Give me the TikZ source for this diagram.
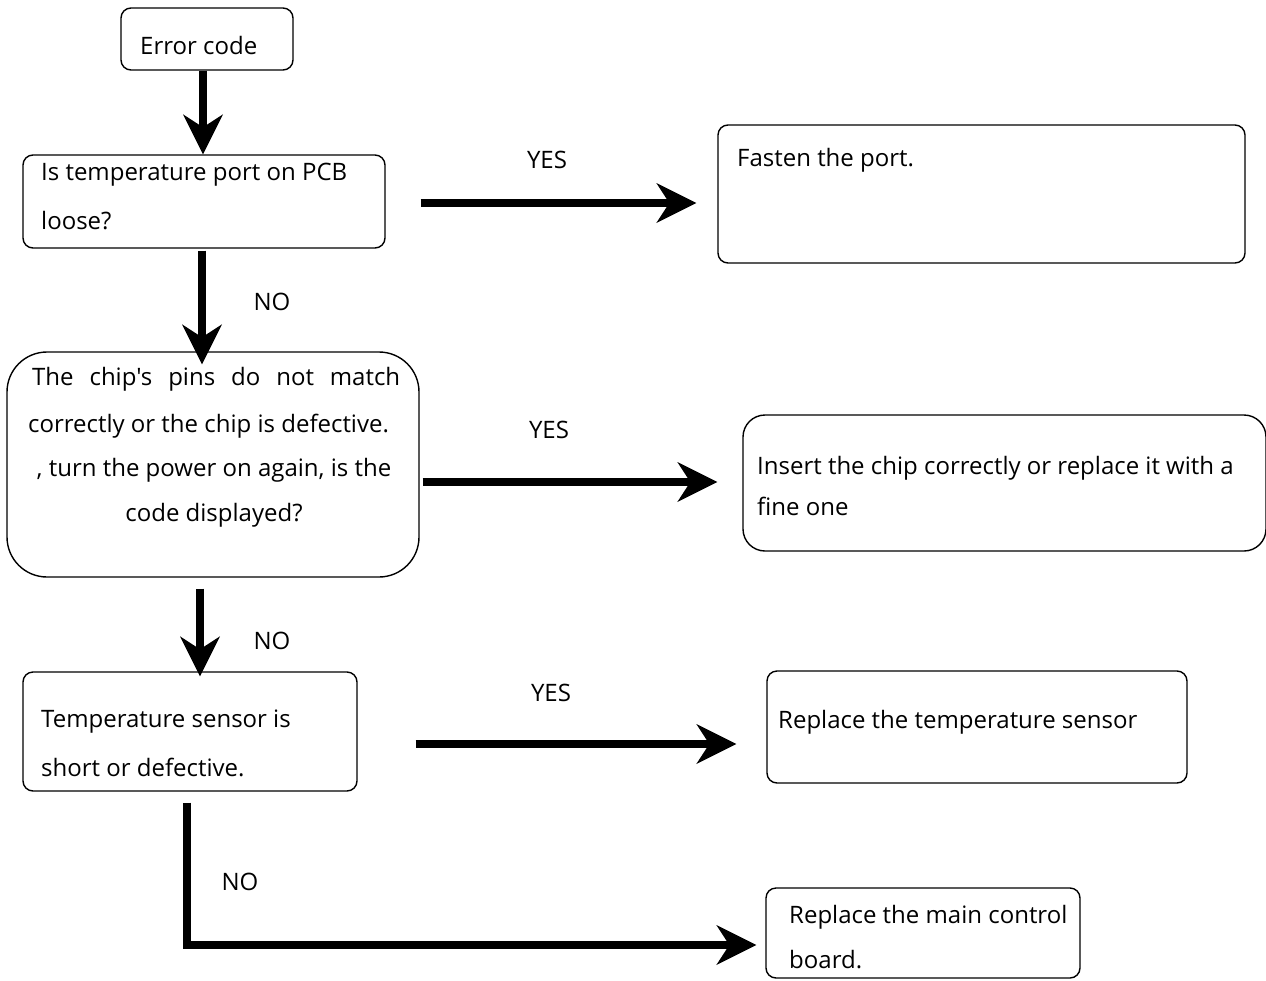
\documentclass[tikz,border=0pt]{standalone}
\usepackage{fontspec}
\setmainfont{Open Sans}[Ligatures=TeXOff]
\usetikzlibrary{arrows.meta,calc}
\begin{document}
\begin{tikzpicture}[x=1pt,y=-1pt,
  box/.style={draw,line width=1.4pt,rounded corners=#1,inner sep=0pt},
  box/.default=10pt,
  txt/.style={anchor=west,inner sep=0pt,font=\fontsize{24}{28}\selectfont},
  lbl/.style={inner sep=0pt,font=\fontsize{24}{28}\selectfont},
  flow/.style={line width=8pt,-{Stealth[length=40pt,width=40pt,inset=13pt,line width=0pt]}}]
\useasboundingbox (0,0) rectangle (1266,980);

% boxes
\node[box,minimum width=172pt,minimum height=62pt] (err) at (207,39) {};
\node[box,minimum width=362pt,minimum height=93pt] (q1) at (204,201.5) {};
\node[box,minimum width=527pt,minimum height=138pt] (fasten) at (981.5,194) {};
\node[box=40pt,minimum width=412pt,minimum height=225pt] (chip) at (213,464.5) {};
\node[box=22pt,minimum width=523pt,minimum height=136pt] (insert) at (1004.5,483) {};
\node[box,minimum width=334pt,minimum height=119pt] (sensor) at (190,731.5) {};
\node[box,minimum width=420pt,minimum height=112pt] (rsensor) at (977,727) {};
\node[box,minimum width=314pt,minimum height=90pt] (mainb) at (923,933) {};

% texts
\node[txt] (t0) at (140,45) {Error code};
\node[txt] (t1a) at (41,175) {Is temperature port on PCB};
\node[txt] (t1b) at (41,221) {loose?};
\node[txt] (t2) at (737,160) {Fasten the port.};
\node[txt] (t3a) at (32,379) {\makebox[368pt][s]{The chip's pins do not match}};
\node[txt] (t3b) at (28,426) {correctly or the chip is defective.};
\node[lbl] (t3c) at (214,470) {, turn the power on again, is the};
\node[lbl] (t3d) at (214,515) {code displayed?};
\node[txt] (t4a) at (757,468) {Insert the chip correctly or replace it with a};
\node[txt] (t4b) at (757,506) {fine one};
\node[txt] (t5a) at (41,722) {Temperature sensor is};
\node[txt] (t5b) at (41,767) {short or defective.};
\node[txt] (t6) at (778,722) {Replace the temperature sensor};
\node[txt] (t7a) at (789,917) {Replace the main control};
\node[txt] (t7b) at (789,960) {board.};

% branch labels
\node[lbl] (y1) at (547,160) {YES};
\node[lbl] (y2) at (549,430) {YES};
\node[lbl] (y3) at (551,693) {YES};
\node[lbl] (n1) at (272,302) {NO};
\node[lbl] (n2) at (272,641) {NO};
\node[lbl] (n3) at (240,882) {NO};

% connectors
\draw[flow] ($(err.south)+(-4,0)$) -- ($(err.south |- q1.north)+(-4,0)$);
\draw[flow,shorten <=35pt,shorten >=21pt] ($(q1.east)+(0,1.5)$) -- ($(fasten.west |- q1.east)+(0,1.5)$);
\draw[flow,shorten <=2pt,shorten >=-13pt] ($(q1.south)+(-2,0)$) -- ($(q1.south |- chip.north)+(-2,0)$);
\draw[flow,shorten <=3pt,shorten >=25pt] ($(chip.east |- insert.west)+(0,-1)$) -- ($(insert.west)+(0,-1)$);
\draw[flow,shorten <=11pt,shorten >=-5pt] ($(chip.south)+(-13,0)$) -- ($(chip.south |- sensor.north)+(-13,0)$);
\draw[flow,shorten <=58pt,shorten >=30pt] ($(sensor.east)+(0,12.5)$) -- ($(rsensor.west |- sensor.east)+(0,12.5)$);
\draw[flow,shorten <=11pt,shorten >=9pt] ($(sensor.south)+(-3,0)$) |- ($(mainb.west)+(0,12)$);
\end{tikzpicture}
\end{document}
